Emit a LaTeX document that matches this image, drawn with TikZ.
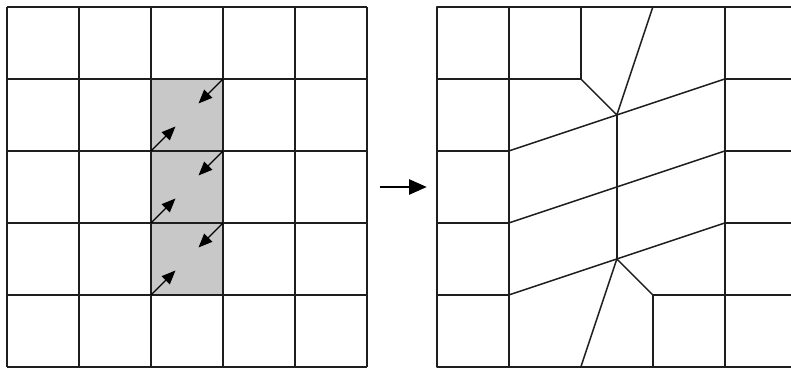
\documentclass[tikz,border=0pt]{standalone}
\usepackage{xcolor}
\usepackage{tikz}
\usetikzlibrary{arrows.meta,calc}
\definecolor{cellshade}{RGB}{200,200,200}
\definecolor{meshline}{RGB}{30,30,30}

\begin{document}
\begin{tikzpicture}[
  x=1cm,y=1cm,
  gridline/.style={draw=meshline,line width=0.6pt},
  flow/.style={-{Triangle[length=5.5pt,width=4.5pt]},line width=0.5pt},
  maparr/.style={-{Triangle[length=7pt,width=6pt]},line width=0.8pt},
]
\useasboundingbox (-0.097,-0.056) rectangle (10.889,5.097);

% Ausgangsgitter
\fill[cellshade] (2,1) rectangle (3,4);
\draw[gridline] (0,0) grid (5,5);
\foreach \k in {1,2,3}{
  \draw[flow] (2,\k) -- ++(0.34,0.34);
  \draw[flow] (3,\k+1) -- ++(-0.34,-0.34);
}

% Pfeil
\coordinate (mapA) at (5.18,2.5);
\coordinate (mapB) at (5.83,2.5);
\draw[maparr] (mapA) -- (mapB);

% verschobenes Gitter
\begin{scope}[shift={(5.97,0)},gridline,line join=round]
\draw (0,0) rectangle (5,5);
\draw (1,0) -- (1,5);
\draw (4,0) -- (4,5);
\foreach \y in {1,...,4}{
  \draw (0,\y) -- (1,\y);
  \draw (4,\y) -- (5,\y);
}
\coordinate (top) at (2.5,3.5);
\coordinate (bot) at (2.5,1.5);
\draw (1,4) -- (2,4) -- (2,5);
\draw (2,4) -- (top) -- (3,5);
\draw (top) -- (bot);
\draw (4,1) -- (3,1) -- (3,0);
\draw (3,1) -- (bot) -- (2,0);
\draw (1,3) -- (4,4);
\draw (1,2) -- (4,3);
\draw (1,1) -- (4,2);
\end{scope}

\end{tikzpicture}
\end{document}
